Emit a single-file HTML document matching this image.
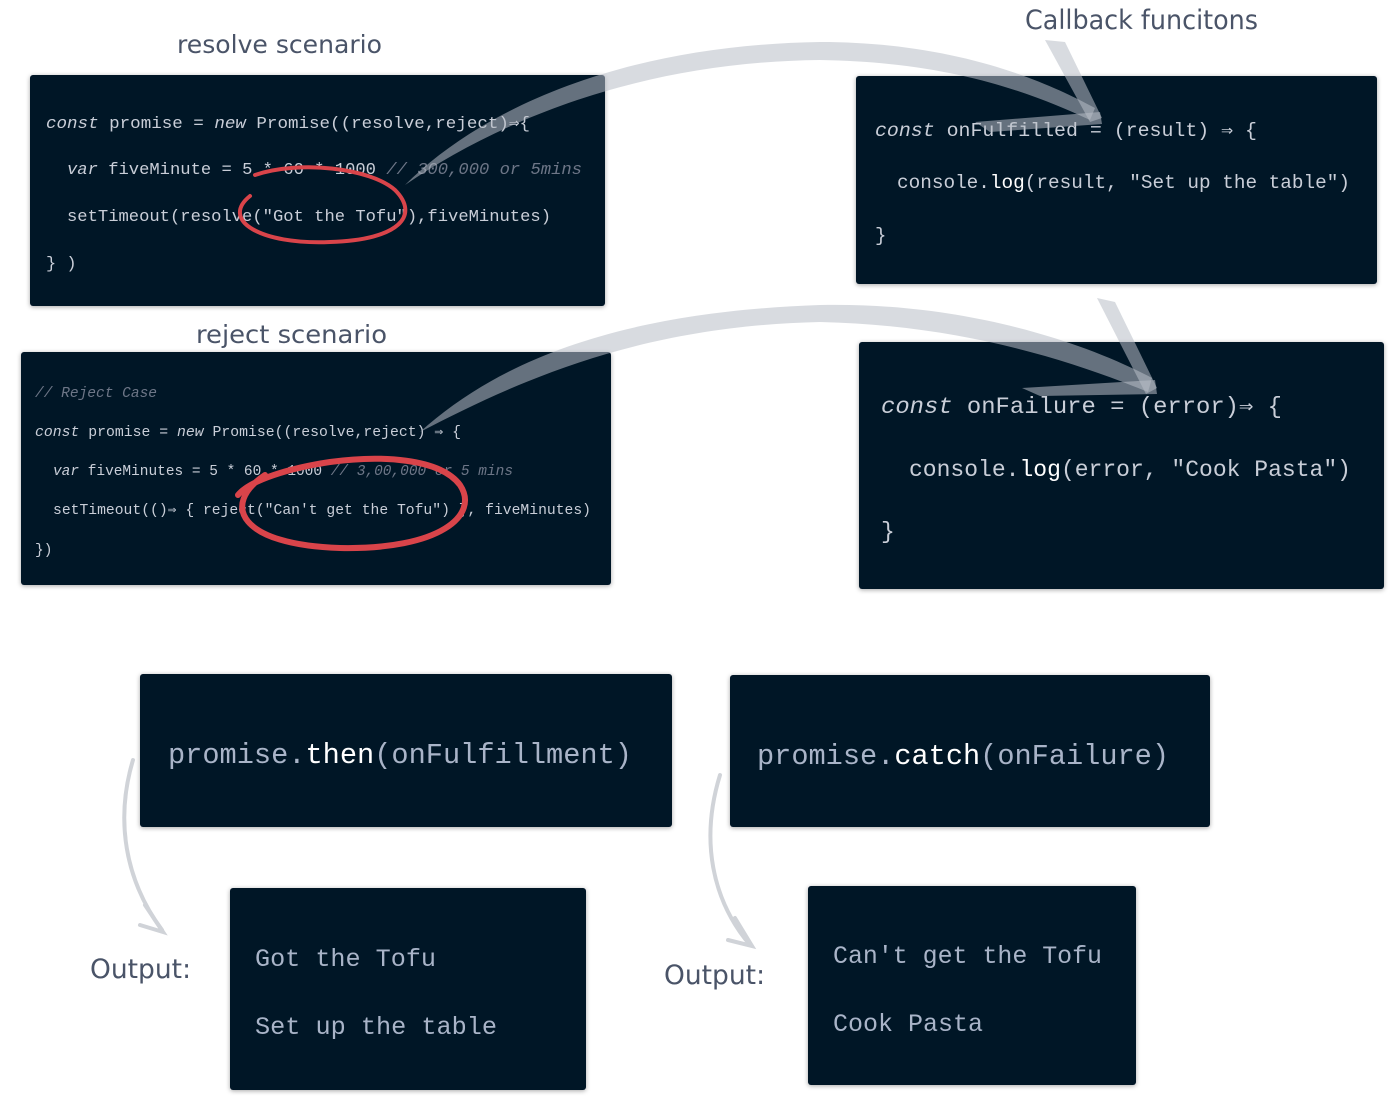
<!DOCTYPE html>
<html><head><meta charset="utf-8"><style>
html,body{margin:0;padding:0;background:#fff;}
svg{display:block}
.c{font-family:"Liberation Mono","DejaVu Sans Mono",monospace;fill:#c9ced8;}
.h{font-family:"DejaVu Sans","Liberation Sans",sans-serif;fill:#4a5468;}
.w{fill:#ffffff}
.i{font-style:italic}
.cm{fill:#6d7687;font-style:italic}
</style></head><body>
<svg width="1400" height="1120" viewBox="0 0 1400 1120" xmlns="http://www.w3.org/2000/svg">
<defs>
<filter id="sh" x="-5%" y="-5%" width="110%" height="115%"><feDropShadow dx="0" dy="1" stdDeviation="2.5" flood-color="#000" flood-opacity="0.35"/></filter>
</defs>
<g fill="#031428" filter="url(#sh)">
<rect x="30" y="75" width="575" height="231" rx="3"/>
<rect x="21" y="352" width="590" height="233" rx="3"/>
<rect x="856" y="76" width="521" height="208" rx="3"/>
<rect x="859" y="342" width="525" height="247" rx="3"/>
<rect x="140" y="674" width="532" height="153" rx="3"/>
<rect x="730" y="675" width="480" height="152" rx="3"/>
<rect x="230" y="888" width="356" height="202" rx="3"/>
<rect x="808" y="886" width="328" height="199" rx="3"/>
</g>

<!-- headings -->
<text class="h" x="177" y="53" font-size="25" textLength="205" lengthAdjust="spacingAndGlyphs">resolve scenario</text>
<text class="h" x="1025" y="29" font-size="27" textLength="233" lengthAdjust="spacingAndGlyphs">Callback funcitons</text>
<text class="h" x="196" y="343" font-size="25" textLength="191" lengthAdjust="spacingAndGlyphs">reject scenario</text>
<text class="h" x="90" y="978" font-size="27" textLength="101" lengthAdjust="spacingAndGlyphs">Output:</text>
<text class="h" x="664" y="984" font-size="27" textLength="101" lengthAdjust="spacingAndGlyphs">Output:</text>

<!-- box1 -->
<g class="c" font-size="17">
<text x="46" y="128" textLength="484" lengthAdjust="spacingAndGlyphs"><tspan class="i">const</tspan> promise = <tspan class="i">new</tspan> Promise((resolve,reject)⇒{</text>
<text x="67" y="174" textLength="515" lengthAdjust="spacingAndGlyphs"><tspan class="i">var</tspan> fiveMinute = 5 * 60 * 1000 <tspan class="cm">// 300,000 or 5mins</tspan></text>
<text x="67" y="221" textLength="484" lengthAdjust="spacingAndGlyphs">setTimeout(resolve("Got the Tofu"),fiveMinutes)</text>
<text x="46" y="268">} )</text>
</g>
<!-- box2 -->
<g class="c" font-size="14.5">
<text x="35" y="397" class="cm" textLength="122" lengthAdjust="spacingAndGlyphs">// Reject Case</text>
<text x="35" y="436" textLength="426" lengthAdjust="spacingAndGlyphs"><tspan class="i">const</tspan> promise = <tspan class="i">new</tspan> Promise((resolve,reject) ⇒ {</text>
<text x="53" y="475" textLength="460" lengthAdjust="spacingAndGlyphs"><tspan class="i">var</tspan> fiveMinutes = 5 * 60 * 1000 <tspan class="cm">// 3,00,000 or 5 mins</tspan></text>
<text x="53" y="514" textLength="538" lengthAdjust="spacingAndGlyphs">setTimeout(()⇒ { reject("Can't get the Tofu") }, fiveMinutes)</text>
<text x="35" y="554">})</text>
</g>
<!-- box3 -->
<g class="c" font-size="19">
<text x="875" y="136" textLength="382" lengthAdjust="spacingAndGlyphs"><tspan class="i">const</tspan> onFulfilled = (result) ⇒ {</text>
<text x="897" y="188" textLength="453" lengthAdjust="spacingAndGlyphs">console.<tspan class="w">log</tspan>(result, "Set up the table")</text>
<text x="875" y="241">}</text>
</g>
<!-- box4 -->
<g class="c" font-size="23">
<text x="881" y="413" textLength="401" lengthAdjust="spacingAndGlyphs"><tspan class="i">const</tspan> onFailure = (error)⇒ {</text>
<text x="909" y="476" textLength="442" lengthAdjust="spacingAndGlyphs">console.<tspan class="w">log</tspan>(error, "Cook Pasta")</text>
<text x="881" y="538">}</text>
</g>
<!-- box5/6 -->
<g class="c" font-size="28.5" style="fill:#a9b4c8">
<text x="168" y="763" textLength="464" lengthAdjust="spacingAndGlyphs">promise.<tspan class="w">then</tspan>(onFulfillment)</text>
<text x="757" y="764" textLength="412" lengthAdjust="spacingAndGlyphs">promise.<tspan class="w">catch</tspan>(onFailure)</text>
</g>
<!-- box7/8 -->
<g class="c" font-size="25" style="fill:#a9b4c8">
<text x="255" y="966" textLength="181" lengthAdjust="spacingAndGlyphs">Got the Tofu</text>
<text x="255" y="1034" textLength="242" lengthAdjust="spacingAndGlyphs">Set up the table</text>
<text x="833" y="963" textLength="269" lengthAdjust="spacingAndGlyphs">Can't get the Tofu</text>
<text x="833" y="1031" textLength="150" lengthAdjust="spacingAndGlyphs">Cook Pasta</text>
</g>

<!-- red circles -->
<g fill="none" stroke="#d9444a" stroke-linecap="round">
<path d="M250,196 C220,220 260,245 330,242 C400,240 420,215 395,190 C370,168 300,160 255,175" stroke-width="4"/>
<path d="M265,475 C220,505 240,545 340,548 C440,550 480,515 460,485 C440,458 380,455 330,462 C290,468 250,480 238,495" stroke-width="6"/>
</g>

<!-- big swoosh arrows -->
<g fill="#b8bec6" fill-opacity="0.55">
<path d="M405,185 C480,110 620,45 820,42 C950,42 1040,78 1095,108 L1090,120 C1030,92 950,62 820,60 C640,62 500,120 405,185 Z"/>
<path d="M1045,40 L1065,42 L1102,118 L1090,122 Z"/>
<path d="M975,122 L1100,112 L1102,124 L990,132 Z"/>
<path d="M420,432 C500,360 620,312 820,305 C960,302 1080,340 1152,378 L1148,392 C1070,360 960,325 820,322 C640,326 520,380 420,432 Z"/>
<path d="M1097,298 L1115,302 L1157,388 L1146,394 Z"/>
<path d="M1022,388 L1155,380 L1157,394 L1040,396 Z"/>
</g>

<!-- small curved arrows -->
<g fill="none" stroke="#d0d3d8" stroke-width="4" stroke-linecap="round">
<path d="M133,760 C115,820 125,880 162,930"/>
<path d="M145,905 L163,932 L140,925"/>
<path d="M720,775 C700,840 712,900 750,945"/>
<path d="M735,918 L752,946 L728,940"/>
</g>
</svg>
</body></html>
